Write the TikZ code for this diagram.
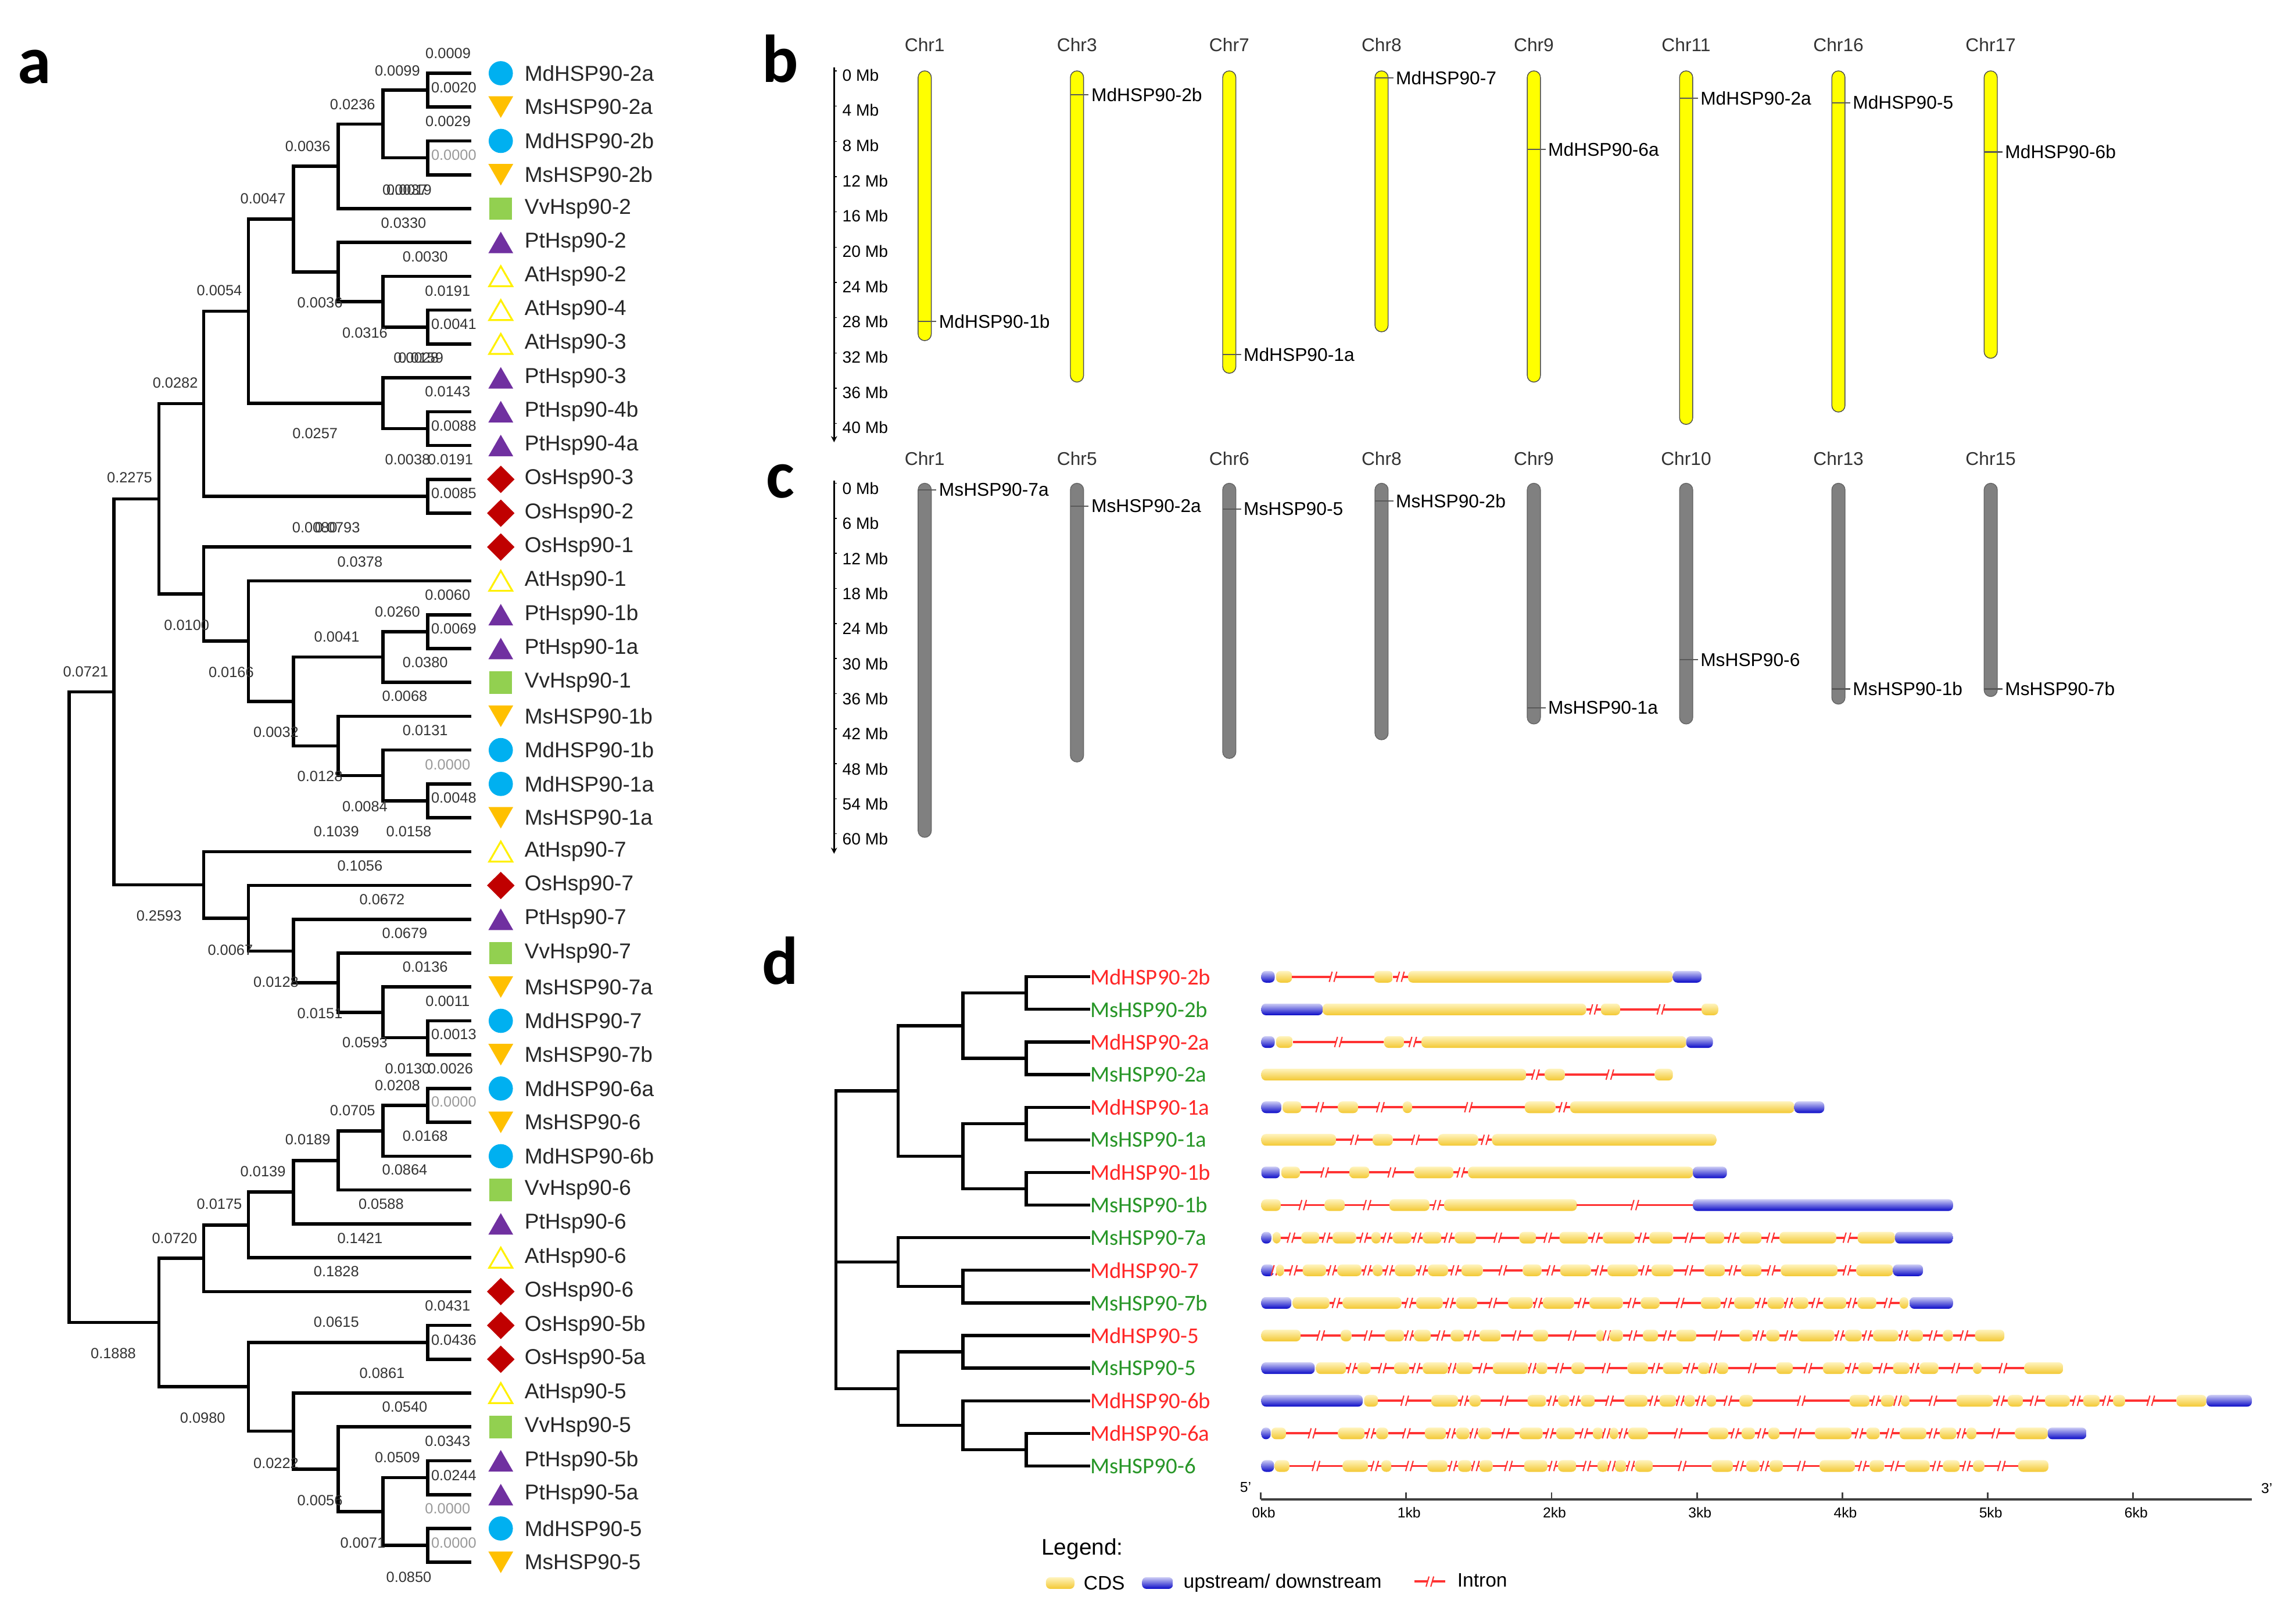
\documentclass[tikz,border=0pt]{standalone}
\usepackage{fontspec}
\setmainfont{Liberation Sans}
\newfontfamily\calib{Carlito}
\usetikzlibrary{shapes.geometric,arrows.meta}

\definecolor{mdcol}{RGB}{0,176,240}
\definecolor{mscol}{RGB}{255,192,0}
\definecolor{vvcol}{RGB}{146,208,80}
\definecolor{ptcol}{RGB}{112,48,160}
\definecolor{atcol}{RGB}{255,240,0}
\definecolor{oscol}{RGB}{192,0,0}
\definecolor{chrY}{RGB}{255,255,0}
\definecolor{chrG}{RGB}{128,128,128}
\definecolor{mdred}{RGB}{255,40,40}
\definecolor{msgreen}{RGB}{40,150,40}
\definecolor{cdsTop}{RGB}{255,244,190}
\definecolor{cdsBot}{RGB}{243,200,50}
\definecolor{utrTop}{RGB}{205,205,245}
\definecolor{utrBot}{RGB}{10,10,200}
\definecolor{intr}{RGB}{255,50,50}

% one gene model of panel d: row, list of kind/start/end
\newcommand\generow[2]{%
  \pgfmathsetmacro\ry{dy(#1)}%
  \foreach \kind/\a/\b [remember=\b as \lastb (initially 9999)] in {#2}{%
    \pgfmathtruncatemacro\gap{\a-\lastb}%
    \ifnum\gap>2
      \pgfmathsetmacro\gm{gx((\lastb+\a)/2)}%
      \draw[intron] ({gx(\lastb)},\ry) -- ({gx(\a)},\ry);
      \fill[white] (\gm-1.6,\ry-2) rectangle (\gm+1.6,\ry+2);
      \draw[brk] (\gm-2.6,\ry+3.5) -- (\gm-0.6,\ry-3.5) (\gm+0.6,\ry+3.5) -- (\gm+2.6,\ry-3.5);
    \fi
    \draw[\kind] ({gx(\a)},\ry-4) rectangle ({gx(\b)},\ry+4);
  }}

\begin{document}
\begin{tikzpicture}[x=0.7143pt,y=-0.7143pt,
  declare function={ty(\n)=50+23.11*(\n-1); lx(\k)=47.3+30.6*\k;
    gx(\a)=853.2+0.4555*\a; mby(\v)=48.4+6.02*\v; msy(\v)=330+3.99*\v;
    dy(\n)=667+22.27*(\n-1);},
  branch/.style={line width=1.6pt},
  dbranch/.style={line width=1.5pt},
  panel/.style={anchor=base west, inner sep=0pt, font=\calib\bfseries\fontsize{33}{36}\selectfont},
  tiplab/.style={anchor=west, inner sep=0pt, font=\fontsize{10.5}{12}\selectfont, text=black!85},
  blen/.style={inner sep=0pt, font=\fontsize{7.2}{8}\selectfont, text=black!80},
  blzero/.style={blen, text=black!40},
  symMd/.style={circle, fill=mdcol, minimum size=11.8pt, inner sep=0pt},
  symMs/.style={regular polygon, regular polygon sides=3, shape border rotate=180, fill=mscol, minimum size=14pt, inner sep=0pt, yshift=1.75pt},
  symVv/.style={rectangle, fill=vvcol, minimum size=11pt, inner sep=0pt},
  symPt/.style={regular polygon, regular polygon sides=3, fill=ptcol, minimum size=14pt, inner sep=0pt, yshift=-1.75pt},
  symAt/.style={regular polygon, regular polygon sides=3, draw=atcol, line width=0.9pt, fill=white, minimum size=13pt, inner sep=0pt, yshift=-1.6pt},
  symOs/.style={diamond, fill=oscol, minimum width=13.6pt, minimum height=13.5pt, inner sep=0pt},
  chrlab/.style={inner sep=0pt, font=\fontsize{9}{10}\selectfont, text=black!80},
  mblab/.style={anchor=west, inner sep=0pt, font=\fontsize{8}{9}\selectfont},
  genelab/.style={anchor=west, inner sep=1pt, font=\fontsize{9}{10}\selectfont},
  chrMd/.style={draw=black!70, fill=chrY, line width=0.4pt, rounded corners=3.2pt},
  chrMs/.style={draw=black!60, fill=chrG, line width=0.4pt, rounded corners=3.2pt},
  genemark/.style={draw=black!65, line width=0.6pt},
  mbaxis/.style={line width=0.8pt, -{Stealth[length=3pt,width=3pt]}},
  dlab/.style={anchor=west, inner sep=0pt, font=\calib\fontsize{11}{12}\selectfont},
  cds/.style={rounded corners=2.2pt, top color=cdsTop, bottom color=cdsBot, draw=none},
  utr/.style={rounded corners=2.2pt, top color=utrTop, bottom color=utrBot, draw=none},
  intron/.style={draw=intr, line width=1.1pt},
  brk/.style={draw=intr, line width=0.6pt},
  kbaxis/.style={line width=1.2pt, draw=black!75},
  kblab/.style={inner sep=0pt, font=\fontsize{7}{8}\selectfont},
  leglab/.style={anchor=west, inner sep=0pt, font=\fontsize{9.5}{11}\selectfont}]

\useasboundingbox (0,0) rectangle (1568,1100);

% ---------------- a
\node[panel] (pa) at (12,57) {a};
\foreach \name/\kind [count=\i] in {MdHSP90-2a/symMd, MsHSP90-2a/symMs, MdHSP90-2b/symMd,
  MsHSP90-2b/symMs, VvHsp90-2/symVv, PtHsp90-2/symPt, AtHsp90-2/symAt, AtHsp90-4/symAt,
  AtHsp90-3/symAt, PtHsp90-3/symPt, PtHsp90-4b/symPt, PtHsp90-4a/symPt, OsHsp90-3/symOs,
  OsHsp90-2/symOs, OsHsp90-1/symOs, AtHsp90-1/symAt, PtHsp90-1b/symPt, PtHsp90-1a/symPt,
  VvHsp90-1/symVv, MsHSP90-1b/symMs, MdHSP90-1b/symMd, MdHSP90-1a/symMd, MsHSP90-1a/symMs,
  AtHsp90-7/symAt, OsHsp90-7/symOs, PtHsp90-7/symPt, VvHsp90-7/symVv, MsHSP90-7a/symMs,
  MdHSP90-7/symMd, MsHSP90-7b/symMs, MdHSP90-6a/symMd, MsHSP90-6/symMs, MdHSP90-6b/symMd,
  VvHsp90-6/symVv, PtHsp90-6/symPt, AtHsp90-6/symAt, OsHsp90-6/symOs, OsHsp90-5b/symOs,
  OsHsp90-5a/symOs, AtHsp90-5/symAt, VvHsp90-5/symVv, PtHsp90-5b/symPt, PtHsp90-5a/symPt,
  MdHSP90-5/symMd, MsHSP90-5/symMs}{
  \coordinate (tip\i) at (322,{ty(\i)});
  \node[\kind] (sym\i) at (342,{ty(\i)}) {};
  \node[tiplab] (lab\i) at (358,{ty(\i)}) {\name};
}
\foreach \c/\k/\n in {nA/8/1.5, nB/8/3.5, nC/7/2.5, nD/6/3.75, nH/8/8.5, nG/7/7.75,
  nF/6/6.875, nE/5/5.3125, nK/8/11.5, nJ/7/10.75, nI/4/8.03125, nM/8/13.5, nL/3/10.765625,
  nR1/8/17.5, nR/7/18.25, nU/8/22.5, nT/7/21.75, nS/6/20.875, nQ/5/19.5625, nP/4/17.78125,
  nO/3/16.390625, nN/2/13.578125, nAB/8/29.5, nAA/7/28.75, nZ/6/27.875, nY/5/26.9375,
  nX/4/25.96875, nW/3/24.984375, nV/1/19.28125, s6e/8/31.5, s6d/7/32.25, s6c/6/33.125,
  s6b/5/34.0625, s6a/4/35.03125, s6/3/36.015625, s5a/8/38.5, s5e/8/42.5, s5f/8/44.5,
  s5d/7/43.5, s5c/6/42.25, s5b/5/41.125, s5/4/39.8125, s65/2/37.9140625, root/0/28.59765625}
  \coordinate (\c) at ({lx(\k)},{ty(\n)});
\foreach \p/\c in {nA/tip1, nA/tip2, nB/tip3, nB/tip4, nC/nA, nC/nB, nD/nC, nD/tip5,
  nH/tip8, nH/tip9, nG/tip7, nG/nH, nF/tip6, nF/nG, nE/nD, nE/nF, nK/tip11, nK/tip12,
  nJ/tip10, nJ/nK, nI/nE, nI/nJ, nM/tip13, nM/tip14, nL/nI, nL/nM, nR1/tip17, nR1/tip18,
  nR/nR1, nR/tip19, nU/tip22, nU/tip23, nT/tip21, nT/nU, nS/tip20, nS/nT, nQ/nR, nQ/nS,
  nP/tip16, nP/nQ, nO/tip15, nO/nP, nN/nL, nN/nO, nAB/tip29, nAB/tip30, nAA/tip28, nAA/nAB,
  nZ/tip27, nZ/nAA, nY/tip26, nY/nZ, nX/tip25, nX/nY, nW/tip24, nW/nX, nV/nN, nV/nW,
  s6e/tip31, s6e/tip32, s6d/s6e, s6d/tip33, s6c/s6d, s6c/tip34, s6b/s6c, s6b/tip35,
  s6a/s6b, s6a/tip36, s6/s6a, s6/tip37, s5a/tip38, s5a/tip39, s5e/tip42, s5e/tip43,
  s5f/tip44, s5f/tip45, s5d/s5e, s5d/s5f, s5c/tip41, s5c/s5d, s5b/tip40, s5b/s5c,
  s5/s5a, s5/s5b, s65/s6, s65/s5, root/nV, root/s65}
  \draw[branch] (\p) |- (\c);
\foreach \x/\y/\val [count=\i] in {306/36.4/0.0009, 271.4/48.3/0.0099, 309.9/59.8/0.0020,
  240.8/71.4/0.0236, 306/82.9/0.0029, 210.2/99.8/0.0036, 276.6/129.7/0.0037, 279.4/129.7/0.0019,
  179.6/135.7/0.0047, 275.6/152.1/0.0330, 290.4/175.3/0.0030, 149.8/198.2/0.0054,
  218.5/206.8/0.0036, 305.7/198.6/0.0191, 309.9/221.4/0.0041, 249.2/227.4/0.0316,
  284.2/244.5/0.0028, 287.4/244.5/0.0159, 119.7/261.5/0.0282, 305.7/267.5/0.0143,
  309.9/290.9/0.0088, 215.2/296/0.0257, 278.4/313.9/0.0038, 307.6/313.9/0.0191,
  88.5/326.1/0.2275, 309.9/337/0.0085, 215/360.2/0.0080, 230.4/360.2/0.0793,
  245.8/383.5/0.0378, 305.7/406.3/0.0060, 271.4/417.7/0.0260, 127.5/426.8/0.0100,
  309.9/429.4/0.0069, 230/434.9/0.0041, 290.4/452.3/0.0380, 58.5/458.5/0.0721,
  157.9/459.1/0.0166, 276.4/475.5/0.0068, 290.4/498.8/0.0131, 188.5/500.1/0.0032,
  218.5/530.1/0.0128, 309.9/544.7/0.0048, 249.2/550.6/0.0084, 229.7/568/0.1039,
  279.2/568/0.0158, 245.8/591.1/0.1056, 260.9/614.3/0.0672, 108.6/625.4/0.2593,
  276.4/637.2/0.0679, 157.3/648.9/0.0067, 290.4/660.4/0.0136, 188.5/670.4/0.0128,
  305.7/683.5/0.0011, 218.5/691.9/0.0151, 309.9/706.5/0.0013, 249.2/711.9/0.0593,
  278.4/729.6/0.0130, 307.6/729.6/0.0026, 271.4/741.1/0.0208, 240.8/758.4/0.0705,
  290.4/775.7/0.0168, 210.2/778.3/0.0189, 276.4/798.8/0.0864, 179.6/799.8/0.0139,
  260.3/822/0.0588, 149.8/822/0.0175, 119.2/845.6/0.0720, 245.8/845.6/0.1421,
  229.7/868.4/0.1828, 305.7/891.7/0.0431, 229.7/902.6/0.0615, 309.9/914.9/0.0436,
  77.4/924.2/0.1888, 260.9/937.7/0.0861, 276.4/960.8/0.0540, 138.4/968.4/0.0980,
  305.7/984.1/0.0343, 271.4/995.2/0.0509, 188.5/999/0.0222, 309.9/1007.5/0.0244,
  218.5/1024.5/0.0056, 247.8/1053.4/0.0071, 279.2/1077.1/0.0850}
  \node[blen] (bl\i) at (\x,\y) {\val};
\foreach \x/\y [count=\i] in {309.9/106, 305.7/522, 309.9/752.4, 305.7/1030.3, 309.9/1053.4}
  \node[blzero] (blz\i) at (\x,\y) {0.0000};

% ---------------- b
\node[panel] (pb) at (520,56) {b};
\draw[mbaxis] (569.6,46) -- (569.6,302);
\foreach \v in {0,4,...,40}{
  \draw (569.6,{mby(\v)}) -- ++(2,0);
  \node[mblab] (mb\v) at (575,{mby(\v)+2.8}) {\v\ Mb};
}
\foreach \nm/\len/\gn/\gp [count=\k] in {Chr1/30.6/MdHSP90-1b/28.4, Chr3/35.3/MdHSP90-2b/2.7,
  Chr7/34.3/MdHSP90-1a/32.2, Chr8/29.6/MdHSP90-7/0.8, Chr9/35.3/MdHSP90-6a/8.9,
  Chr11/40.1/MdHSP90-2a/3.1, Chr16/38.7/MdHSP90-5/3.6, Chr17/32.6/MdHSP90-6b/9.2}{
  \pgfmathsetmacro\cx{631.5+104*(\k-1)}
  \node[chrlab] (bchr\k) at (\cx,30.8) {\nm};
  \draw[chrMd] (\cx-4.5,{mby(0)}) rectangle (\cx+4.5,{mby(\len)});
  \draw[genemark] (\cx-4.5,{mby(\gp)}) -- (\cx+8,{mby(\gp)}) node[genelab] (bg\k) {\gn};
}

% ---------------- c
\node[panel] (pc) at (523,340) {c};
\draw[mbaxis] (569.6,328) -- (569.6,583);
\foreach \v in {0,6,...,60}{
  \draw (569.6,{msy(\v)}) -- ++(2,0);
  \node[mblab] (ms\v) at (575,{msy(\v)+3.5}) {\v\ Mb};
}
\foreach \nm/\len/\gn/\gp [count=\k] in {Chr1/60.6/MsHSP90-7a/1.1, Chr5/47.7/MsHSP90-2a/3.9,
  Chr6/47.1/MsHSP90-5/4.4, Chr8/43.9/MsHSP90-2b/3.0, Chr9/41.2/MsHSP90-1a/38.4,
  Chr10/41.2/MsHSP90-6/30.2, Chr13/37.8/MsHSP90-1b/35.2, Chr15/36.5/MsHSP90-7b/35.2}{
  \pgfmathsetmacro\cx{631.5+104*(\k-1)}
  \node[chrlab] (cchr\k) at (\cx,313.1) {\nm};
  \draw[chrMs] (\cx-4.5,{msy(0)}) rectangle (\cx+4.5,{msy(\len)});
  \draw[genemark] (\cx-4.5,{msy(\gp)}) -- (\cx+8,{msy(\gp)}) node[genelab] (cg\k) {\gn};
}

% ---------------- d
\node[panel] (pd) at (520,672) {d};
\foreach \name/\col [count=\i] in {MdHSP90-2b/mdred, MsHSP90-2b/msgreen, MdHSP90-2a/mdred,
  MsHSP90-2a/msgreen, MdHSP90-1a/mdred, MsHSP90-1a/msgreen, MdHSP90-1b/mdred,
  MsHSP90-1b/msgreen, MsHSP90-7a/msgreen, MdHSP90-7/mdred, MsHSP90-7b/msgreen,
  MdHSP90-5/mdred, MsHSP90-5/msgreen, MdHSP90-6b/mdred, MdHSP90-6a/mdred, MsHSP90-6/msgreen}{
  \coordinate (dt\i) at (744.4,{dy(\i)});
  \node[dlab, text=\col] (dl\i) at (dt\i) {\name};
}
\foreach \c/\xx/\n in {d12/700.9/1.5, d34/700.9/3.5, d14/657.6/2.5, d56/700.9/5.5,
  d78/700.9/7.5, d58/657.6/6.5, d18/613.3/4.5, d1011/657.6/10.5, d911/613.3/9.75,
  d1213/657.6/12.5, d1516/700.9/15.5, d1416/657.6/14.75, d1216/613.3/13.625, droot/570.8/9.75}
  \coordinate (\c) at (\xx,{dy(\n)});
\foreach \p/\c in {d12/dt1, d12/dt2, d34/dt3, d34/dt4, d14/d12, d14/d34, d56/dt5, d56/dt6,
  d78/dt7, d78/dt8, d58/d56, d58/d78, d18/d14, d18/d58, d1011/dt10, d1011/dt11, d911/dt9,
  d911/d1011, d1213/dt12, d1213/dt13, d1516/dt15, d1516/dt16, d1416/dt14, d1416/d1516,
  d1216/d1213, d1216/d1416, droot/d18, droot/d911, droot/d1216}
  \draw[dbranch] (\p) |- (\c);

\generow{1}{utr/18/38, cds/40/64, cds/187/215, cds/238/635, utr/635/678}
\generow{2}{utr/18/110, cds/110/505, cds/527/556, cds/678/703}
\generow{3}{utr/18/38, cds/40/65, cds/202/232, cds/258/655, utr/655/695}
\generow{4}{cds/18/415, cds/443/473, cds/608/635}
\generow{5}{utr/18/48, cds/50/78, cds/133/163, cds/230/244, cds/413/459, cds/481/817, utr/817/862}
\generow{6}{cds/18/130, cds/185/215, cds/283/343, cds/364/700}
\generow{7}{utr/18/46, cds/48/76, cds/150/180, cds/247/306, cds/328/665, utr/665/716}
\generow{8}{cds/18/47, cds/113/143, cds/210/270, cds/292/491, utr/665/1055}
\generow{9}{utr/18/33, cds/35/47, cds/78/105, cds/125/160, cds/183/197, cds/215/243,
  cds/260/288, cds/308/340, cds/405/430, cds/465/508, cds/530/578, cds/600/635, cds/683/712,
  cds/735/768, cds/795/880, cds/912/968, utr/968/1055}
\generow{10}{utr/18/37, cds/40/52, cds/80/115, cds/132/168, cds/185/200, cds/218/250,
  cds/268/298, cds/318/350, cds/410/438, cds/466/512, cds/537/583, cds/603/636, cds/682/713,
  cds/737/768, cds/797/882, cds/910/965, utr/965/1010}
\generow{11}{utr/18/63, cds/65/120, cds/140/228, cds/250/290, cds/310/342, cds/388/425,
  cds/440/487, cds/510/560, cds/587/615, cds/677/707, cds/727/758, cds/777/802, cds/815/838,
  cds/860/895, cds/912/940, cds/975/988, utr/990/1055}
\generow{12}{cds/18/77, cds/137/153, cds/203/232, cds/247/272, cds/302/322, cds/345/377,
  cds/425/448, cds/520/532, cds/540/560, cds/590/613, cds/640/670, cds/735/755, cds/775/795,
  cds/822/877, cds/893/918, cds/935/973, cds/988/1010, cds/1040/1055, cds/1088/1132}
\generow{13}{utr/18/98, cds/100/145, cds/162/182, cds/217/240, cds/260/298, cds/310/335,
  cds/365/418, cds/430/447, cds/483/503, cds/567/598, cds/620/650, cds/673/690, cds/700/718,
  cds/790/815, cds/860/893, cds/913/935, cds/965/990, cds/1005/1033, cds/1085/1098, cds/1162/1220}
\generow{14}{utr/18/170, cds/172/193, cds/273/313, cds/330/347, cds/417/445, cds/463/480,
  cds/497/518, cds/562/597, cds/615/640, cds/652/668, cds/685/700, cds/735/755, cds/900/930,
  cds/947/967, cds/977/990, cds/1060/1115, cds/1137/1160, cds/1193/1230, cds/1250/1275,
  cds/1295/1313, cds/1390/1435, utr/1435/1503}
\generow{15}{utr/18/32, cds/33/55, cds/133/173, cds/190/208, cds/263/295, cds/310/330,
  cds/343/363, cds/405/440, cds/460/488, cds/515/530, cds/540/553, cds/568/598, cds/688/718,
  cds/738/758, cds/778/795, cds/848/903, cds/925/945, cds/975/1015, cds/1035/1060,
  cds/1075/1090, cds/1148/1197, utr/1197/1255}
\generow{16}{utr/18/37, cds/38/60, cds/140/178, cds/198/213, cds/267/297, cds/313/333,
  cds/345/365, cds/412/447, cds/463/490, cds/522/538, cds/548/565, cds/578/605, cds/693/725,
  cds/745/765, cds/780/800, cds/855/908, cds/930/952, cds/983/1020, cds/1040/1065,
  cds/1085/1102, cds/1153/1198}

% kb scale
\draw[kbaxis] (861,1024) -- (1538,1024);
\foreach \k in {0,...,6}{
  \draw[kbaxis, line width=0.8pt] ({861+99.3*\k},1024) -- ++(0,-5);
  \node[kblab] (kb\k) at ({863+99.3*\k},1033) {\k{}kb};
}
\node[kblab] (five) at (850.7,1015.6) {5'};
\node[kblab] (three) at (1548,1016.4) {3'};

% legend
\node[leglab, font=\fontsize{11}{12}\selectfont] (legt) at (711,1058) {Legend:};
\draw[cds] (714.3,1077) rectangle (733.8,1085);
\node[leglab] (lcds) at (739.8,1081) {CDS};
\draw[utr] (779.9,1077) rectangle (801.1,1085);
\node[leglab] (lutr) at (808,1081) {upstream/ downstream};
\draw[intron] (965.9,1080) -- (987.1,1080);
\fill[white] (974.9,1078) rectangle (978.1,1082);
\draw[brk] (973.9,1083.5) -- (975.9,1076.5) (977.1,1083.5) -- (979.1,1076.5);
\node[leglab] (lint) at (995,1079) {Intron};
\end{tikzpicture}
\end{document}
